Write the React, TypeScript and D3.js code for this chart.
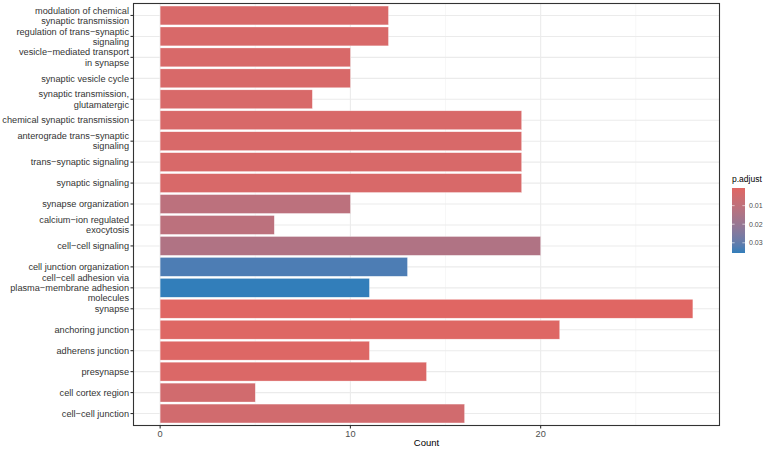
import * as d3 from "d3";

// GO terms, top to bottom
const terms = [
  "modulation of chemical\nsynaptic transmission",
  "regulation of trans−synaptic\nsignaling",
  "vesicle−mediated transport\nin synapse",
  "synaptic vesicle cycle",
  "synaptic transmission,\nglutamatergic",
  "chemical synaptic transmission",
  "anterograde trans−synaptic\nsignaling",
  "trans−synaptic signaling",
  "synaptic signaling",
  "synapse organization",
  "calcium−ion regulated\nexocytosis",
  "cell−cell signaling",
  "cell junction organization",
  "cell−cell adhesion via\nplasma−membrane adhesion\nmolecules",
  "synapse",
  "anchoring junction",
  "adherens junction",
  "presynapse",
  "cell cortex region",
  "cell−cell junction",
];

const counts = [12, 12, 10, 10, 8, 19, 19, 19, 19, 10, 6, 20, 13, 11, 28, 21, 11, 14, 5, 16];

const pAdjust = [
  0.003, 0.003, 0.003, 0.003, 0.003, 0.003, 0.003, 0.003, 0.003, 0.011,
  0.011, 0.014, 0.033, 0.0355, 0.0005, 0.001, 0.0015, 0.002, 0.005, 0.005,
];

const xTicks = [0, 10, 20];
const xMinor = [5, 15, 25];
const legendTicks = [0.01, 0.02, 0.03];

const WIDTH = 767;
const HEIGHT = 451;
const panel = { left: 133.5, right: 719.5, top: 3.5, bottom: 425.5 };
const LOW = "#e06663";
const HIGH = "#327eba";
const FONT = "'Liberation Sans', Arial, sans-serif";
const LABEL_SIZE = 9.2;

export default function App() {
  const maxCount = d3.max(counts) ?? 0;
  const x = d3
    .scaleLinear()
    .domain([-maxCount * 0.05, maxCount * 1.05])
    .range([panel.left, panel.right]);

  const y = d3
    .scaleBand()
    .domain(terms)
    .range([panel.top + 1.5, panel.bottom - 1.5])
    .paddingInner(0.1)
    .paddingOuter(0.05);

  const pDomain = [d3.min(pAdjust) ?? 0, d3.max(pAdjust) ?? 0];
  const color = d3
    .scaleLinear<string>()
    .domain(pDomain)
    .range([LOW, HIGH])
    .interpolate(d3.interpolateLab);

  // colour bar
  const bar = { x: 732, y: 188, w: 13, h: 65 };
  const legendY = d3.scaleLinear().domain(pDomain).range([bar.y, bar.y + bar.h]);
  const stops = d3.range(0, 1.0001, 0.1);

  return (
    <svg
      width={WIDTH}
      height={HEIGHT}
      style={{ position: "absolute", left: 0, top: 0, fontFamily: FONT }}
    >
      <defs>
        <linearGradient id="padj" x1="0" y1="0" x2="0" y2="1">
          {stops.map((t) => (
            <stop
              key={t}
              offset={t}
              stopColor={color(pDomain[0] + t * (pDomain[1] - pDomain[0]))}
            />
          ))}
        </linearGradient>
      </defs>
      <rect width={WIDTH} height={HEIGHT} fill="#fff" />

      {/* grid */}
      {xMinor.map((v) => (
        <line
          key={`mn-${v}`}
          x1={x(v)}
          x2={x(v)}
          y1={panel.top}
          y2={panel.bottom}
          stroke="#f2f2f2"
          strokeWidth={0.6}
        />
      ))}
      {xTicks.map((v) => (
        <line
          key={`mj-${v}`}
          x1={x(v)}
          x2={x(v)}
          y1={panel.top}
          y2={panel.bottom}
          stroke="#ebebeb"
          strokeWidth={1.1}
        />
      ))}
      {terms.map((t) => (
        <line
          key={`hg-${t}`}
          x1={panel.left}
          x2={panel.right}
          y1={(y(t) ?? 0) + y.bandwidth() / 2}
          y2={(y(t) ?? 0) + y.bandwidth() / 2}
          stroke="#ebebeb"
          strokeWidth={1.1}
        />
      ))}

      {/* bars */}
      {terms.map((t, i) => (
        <rect
          key={`bar-${t}`}
          x={x(0)}
          y={y(t) ?? 0}
          width={x(counts[i]) - x(0)}
          height={y.bandwidth()}
          fill={color(pAdjust[i])}
          stroke="#ffffff"
          strokeOpacity={0.6}
          strokeWidth={0.5}
        />
      ))}

      {/* panel border */}
      <rect
        x={panel.left}
        y={panel.top}
        width={panel.right - panel.left}
        height={panel.bottom - panel.top}
        fill="none"
        stroke="#333333"
        strokeWidth={1.1}
      />

      {/* y axis */}
      {terms.map((t) => {
        const cy = (y(t) ?? 0) + y.bandwidth() / 2;
        const lines = t.split("\n");
        const lh = 10.2;
        const start = cy - ((lines.length - 1) * lh) / 2;
        return (
          <g key={`yl-${t}`}>
            <line
              x1={panel.left - 3}
              x2={panel.left}
              y1={cy}
              y2={cy}
              stroke="#333333"
              strokeWidth={1.1}
            />
            <text
              x={panel.left - 4.5}
              textAnchor="end"
              fontSize={LABEL_SIZE}
              fill="#333333"
            >
              {lines.map((l, k) => (
                <tspan key={k} x={panel.left - 4.5} y={start + k * lh} dy="0.35em">
                  {l}
                </tspan>
              ))}
            </text>
          </g>
        );
      })}

      {/* x axis */}
      {xTicks.map((v) => (
        <g key={`xt-${v}`}>
          <line
            x1={x(v)}
            x2={x(v)}
            y1={panel.bottom}
            y2={panel.bottom + 3}
            stroke="#333333"
            strokeWidth={1.1}
          />
          <text
            x={x(v)}
            y={panel.bottom + 11}
            textAnchor="middle"
            fontSize={LABEL_SIZE}
            fill="#4d4d4d"
          >
            {v}
          </text>
        </g>
      ))}
      <text
        x={(panel.left + panel.right) / 2}
        y={446}
        textAnchor="middle"
        fontSize={9.5}
        fill="#000"
      >
        Count
      </text>

      {/* legend */}
      <text x={bar.x} y={bar.y - 6} fontSize={8.5} fill="#000">
        p.adjust
      </text>
      <rect x={bar.x} y={bar.y} width={bar.w} height={bar.h} fill="url(#padj)" />
      {legendTicks.map((v) => (
        <g key={`lt-${v}`}>
          <line
            x1={bar.x}
            x2={bar.x + 2.6}
            y1={legendY(v)}
            y2={legendY(v)}
            stroke="#fff"
            strokeWidth={0.6}
          />
          <line
            x1={bar.x + bar.w - 2.6}
            x2={bar.x + bar.w}
            y1={legendY(v)}
            y2={legendY(v)}
            stroke="#fff"
            strokeWidth={0.6}
          />
          <text
            x={bar.x + bar.w + 4}
            y={legendY(v)}
            dy="0.35em"
            fontSize={7}
            fill="#4d4d4d"
          >
            {v.toFixed(2)}
          </text>
        </g>
      ))}
    </svg>
  );
}
